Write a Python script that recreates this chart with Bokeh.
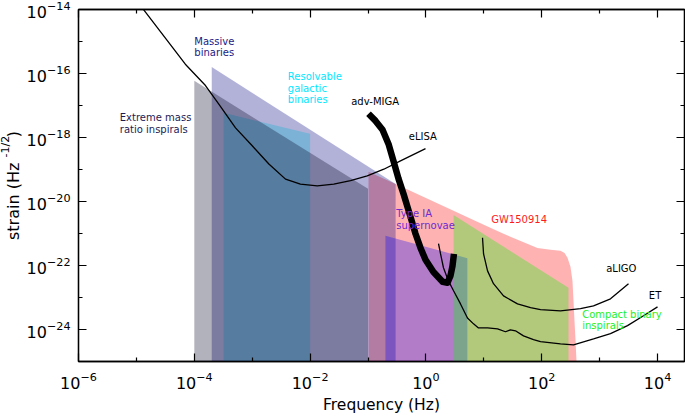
import math
from bokeh.plotting import figure
from bokeh.models import LogAxis, FixedTicker, Label, Range1d, CustomJSTickFormatter, Title
from bokeh.embed import file_html
from bokeh.resources import INLINE

# ---------------- data ----------------
FLOOR = 1e-26  # regions extend down past the axis floor

# Extreme mass ratio inspirals (grey)
emri_f = [1e-4, 0.1]
emri_top = [5.9e-17, 2.5e-20]
# Massive binaries (navy)
mb_f = [2.0e-4, 0.30]
mb_top = [1.6e-16, 3.5e-20]
# Resolvable galactic binaries (light blue)
rgb_f = [3.2e-4, 0.01]
rgb_top = [5.9e-18, 1.3e-18]
# GW150914 (red)
gw_f = [0.102, 0.30, 1.79, 8.77, 21.9, 84.5, 142, 211, 248, 279, 314, 340, 354, 368, 384, 399]
gw_top = [8.5e-20, 3.5e-20, 7.9e-21, 2.1e-21, 9.8e-22, 3.5e-22, 3.1e-22, 2.9e-22,
          2.45e-22, 1.74e-22, 9.1e-23, 3.3e-23, 7.9e-24, 1.9e-24, 4.5e-25, 1.0e-25]
# Type IA supernovae (blue)
sn_f = [0.2, 5.2]
sn_top = [8.5e-22, 1.7e-22]
# Compact binary inspirals (lime)
cbi_f = [3.0, 290]
cbi_top = [3.8e-21, 2.0e-23]

# eLISA sensitivity
elisa_f = [7.9e-6, 1.34e-5, 7.0e-5, 1.56e-4, 2.65e-4, 5.15e-4, 1.0e-3, 1.94e-3, 3.76e-3,
           6.8e-3, 1.33e-2, 2.56e-2, 4.99e-2, 9.7e-2, 0.1875, 0.364, 0.984]
elisa_h = [3.2e-14, 9.8e-15, 1.95e-16, 4.2e-17, 1.1e-17, 2.0e-18, 5.5e-19, 1.48e-19, 5.0e-20,
           3.5e-20, 3.1e-20, 3.5e-20, 4.5e-20, 6.3e-20, 1.02e-19, 1.86e-19, 4.5e-19]
# adv-MIGA
miga_f = [0.102, 0.135, 0.178, 0.226, 0.275, 0.337, 0.410, 0.542, 0.661, 0.807, 0.984,
          1.35, 1.94, 2.36, 2.66, 2.88, 3.05]
miga_h = [5.5e-18, 3.3e-18, 1.74e-18, 6.3e-19, 1.86e-19, 5.1e-20, 1.74e-20, 3.3e-21, 9.8e-22,
          3.55e-22, 1.51e-22, 6.3e-23, 3.1e-23, 2.9e-23, 4.8e-23, 9.8e-23, 2.3e-22]
# ET
et_f = [1.65, 1.79, 2.01, 2.45, 3.0, 3.96, 5.22, 6.64, 8.09, 11.6, 17.3, 23.7, 28.9, 35.2,
        48.5, 72.1, 95.3, 211, 354, 785, 1542, 3034, 5728, 10000]
et_h = [4.8e-22, 2.3e-22, 8.5e-23, 3.3e-23, 1.62e-23, 6.3e-24, 2.3e-24, 1.5e-24, 1.12e-24,
        1.12e-24, 1.05e-24, 8.5e-25, 9.8e-25, 9.1e-25, 6.3e-25, 4.8e-25, 4.2e-25, 3.55e-25,
        3.3e-25, 5.1e-25, 7.4e-25, 1.32e-24, 2.7e-24, 5.1e-24]
# aLIGO
aligo_f = [9.5, 9.9, 11.6, 14.7, 21.9, 38.2, 64.1, 95.3, 211, 468, 785, 1542, 3155]
aligo_h = [7.4e-22, 2.3e-22, 6.8e-23, 2.7e-23, 1.12e-23, 6.3e-24, 4.8e-24, 4.2e-24, 3.8e-24,
           4.5e-24, 5.5e-24, 9.1e-24, 2.7e-23]

x_major = [10.0 ** k for k in range(-6, 5, 2)]
x_minor = [10.0 ** k for k in range(-5, 5, 2)]
y_major = [10.0 ** k for k in range(-24, -13, 2)]
y_minor = [10.0 ** k for k in range(-25, -14, 2)]

FONT = "DejaVu Sans"
NBSP = "\u00a0"

p = figure(width=685, height=417, x_axis_type="log", y_axis_type="log",
           x_range=Range1d(1e-6, 10 ** 4.466), y_range=Range1d(1e-25, 1e-14),
           output_backend="svg", toolbar_location=None,
           min_border_left=78, min_border_right=1, min_border_top=9, min_border_bottom=56)
p.grid.visible = False
p.background_fill_color = "white"
p.border_fill_color = "white"
p.outline_line_color = "black"
p.outline_line_width = 1.3


def style_axis(ax, ticks, minor, labels=True, standoff=10):
    ax.ticker = FixedTicker(ticks=ticks, minor_ticks=minor)
    ax.axis_line_color = "black"
    ax.axis_line_width = 1.3
    ax.major_tick_in = 8
    ax.major_tick_out = 0
    ax.minor_tick_in = 4
    ax.minor_tick_out = 0
    ax.major_tick_line_color = "black"
    ax.minor_tick_line_color = "black"
    ax.major_tick_line_width = 1.2
    ax.minor_tick_line_width = 1.2
    if labels:
        ax.major_label_text_font = FONT
        ax.major_label_text_font_size = "16px"
        ax.major_label_text_color = "black"
        ax.major_label_standoff = standoff
    else:
        ax.formatter = CustomJSTickFormatter(code="return ''")
        ax.major_label_standoff = 0
        ax.major_label_text_font_size = "1px"


style_axis(p.xaxis[0], x_major, x_minor)
style_axis(p.yaxis[0], y_major, y_minor, standoff=8)
p.xaxis[0].axis_label = "Frequency (Hz)"
p.xaxis[0].axis_label_text_font = FONT
p.xaxis[0].axis_label_text_font_size = "15.5px"
p.xaxis[0].axis_label_text_font_style = "normal"
p.xaxis[0].axis_label_text_color = "black"
p.xaxis[0].axis_label_standoff = 4

# y axis label: main text (gap kept for the superscript) on the tick axis
p.yaxis[0].axis_label = "strain (Hz" + NBSP * 5 + ")"
p.yaxis[0].axis_label_text_font = FONT
p.yaxis[0].axis_label_text_font_size = "16px"
p.yaxis[0].axis_label_text_font_style = "normal"
p.yaxis[0].axis_label_text_color = "black"
p.yaxis[0].axis_label_standoff = 1

# superscript as a side title next to the axis-label strip
sup = Title(text="-1/2", align="left", offset=204, vertical_align="bottom",
            standoff=-22, text_font=FONT, text_font_size="11px",
            text_font_style="normal", text_color="black")
p.add_layout(sup, "left")

top_ax = LogAxis()
right_ax = LogAxis()
style_axis(top_ax, x_major, x_minor, labels=False)
style_axis(right_ax, y_major, y_minor, labels=False)
p.add_layout(top_ax, "above")
p.add_layout(right_ax, "right")


def region(f, top, color):
    xs = [f[0]] + list(f) + [f[-1]]
    ys = [FLOOR] + list(top) + [FLOOR]
    p.patch(xs, ys, fill_color=color, fill_alpha=0.3, line_color=None)


region(gw_f, gw_top, "#ff0000")
region(mb_f, mb_top, "#000080")
region(rgb_f, rgb_top, "#00b4d0")
region(emri_f, emri_top, "#000020")
region(sn_f, sn_top, "#0000ff")
region(cbi_f, cbi_top, "#00ff00")

p.line(elisa_f, elisa_h, line_color="black", line_width=1.3)
p.line(et_f, et_h, line_color="black", line_width=1.3)
p.line(aligo_f, aligo_h, line_color="black", line_width=1.3)
p.line(miga_f, miga_h, line_color="black", line_width=6.5, line_join="round", line_cap="butt")


def lab(text, lf, lh, color, size="10px"):
    p.add_layout(Label(x=10 ** lf, y=10 ** lh, text=text, text_color=color,
                       text_font=FONT, text_font_size=size, text_baseline="top",
                       text_align="left", text_line_height=1.05))


lab("Massive\nbinaries", -4.0, -14.82, "#1a1a85")
lab("Extreme mass\nratio inspirals", -5.287, -17.21, "#1c1c55")
lab("Resolvable\ngalactic\nbinaries", -2.385, -15.93, "#00e6ff")
lab("adv-MIGA", -1.29, -16.70, "black")
lab("eLISA", -0.295, -17.79, "black")
lab("Type IA\nsupernovae", -0.513, -20.21, "#6c2cd0")
lab("GW150914", 1.128, -20.40, "#ff1a1a")
lab("aLIGO", 3.114, -21.93, "black")
lab("ET", 3.85, -22.78, "black")
lab("Compact binary\ninspirals", 2.699, -23.35, "#22f022")

open("out.html", "w").write(file_html(p, INLINE))
